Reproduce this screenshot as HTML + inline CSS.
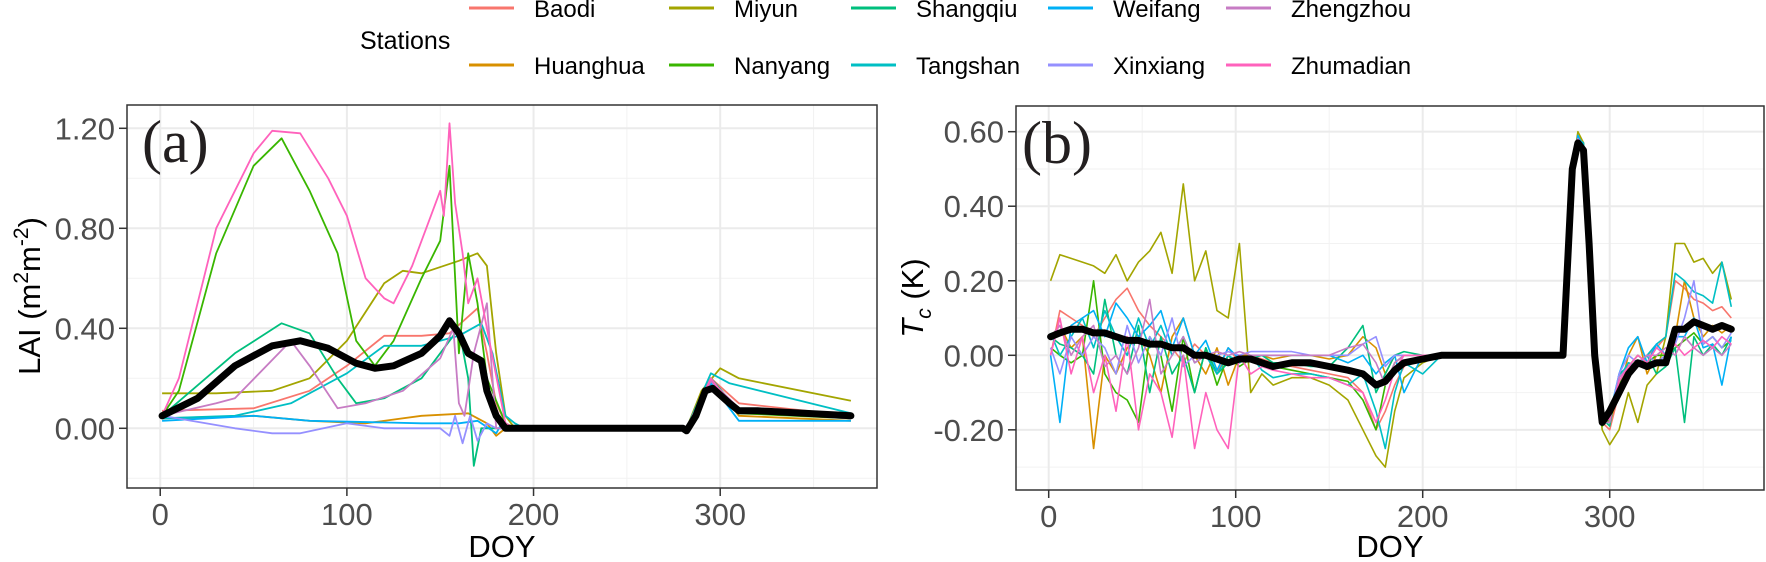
<!DOCTYPE html>
<html><head><meta charset="utf-8"><style>
html,body{margin:0;padding:0;background:#fff;}
svg{display:block;font-family:"Liberation Sans",Arial,sans-serif;}
</style></head><body>
<svg id="chart" width="1766" height="562" viewBox="0 0 1766 562">
<g id="legend"></g>
<g id="panelA"></g>
<g id="panelB"></g>
</svg>
<script>
const stations = ["Baodi","Huanghua","Miyun","Nanyang","Shangqiu","Tangshan","Weifang","Xinxiang","Zhengzhou","Zhumadian"];
const colors = ["#F8766D","#D89000","#A3A500","#39B600","#00BF7D","#00BFC4","#00B0F6","#9590FF","#C77CC4","#FF62BC"];
const xTicks = [0,100,200,300];
const yTicksA = [0,0.4,0.8,1.2];
const yTicksB = [-0.2,0,0.2,0.4,0.6];

// Panel (a) LAI: [DOY, value]
const lai_Baodi = [[1,0.07],[50,0.08],[80,0.15],[100,0.25],[120,0.37],[140,0.37],[155,0.38],[170,0.48],[175,0.3],[180,0.1],[185,0.02],[190,0],[282,0],[295,0.2],[310,0.1],[370,0.05]];
const lai_Huanghua = [[1,0.04],[50,0.05],[80,0.03],[110,0.02],[140,0.05],[165,0.06],[175,0.02],[180,-0.03],[185,0],[282,0],[295,0.2],[310,0.05],[370,0.03]];
const lai_Miyun = [[1,0.14],[30,0.14],[60,0.15],[80,0.2],[100,0.35],[120,0.58],[130,0.63],[140,0.62],[160,0.67],[170,0.7],[175,0.65],[180,0.3],[185,0.05],[190,0],[282,0],[290,0.15],[300,0.24],[310,0.2],[370,0.11]];
const lai_Nanyang = [[1,0.05],[10,0.15],[30,0.7],[50,1.05],[65,1.16],[80,0.95],[95,0.7],[105,0.35],[115,0.25],[125,0.35],[140,0.6],[150,0.75],[155,1.05],[160,0.3],[165,0.7],[170,0.5],[175,0.2],[185,0.02],[190,0],[282,0],[295,0.2],[310,0.06],[370,0.04]];
const lai_Shangqiu = [[1,0.05],[40,0.3],[65,0.42],[80,0.38],[95,0.2],[105,0.1],[120,0.12],[140,0.2],[160,0.4],[165,0.2],[168,-0.15],[172,0],[185,0],[282,0],[295,0.2],[310,0.07],[370,0.04]];
const lai_Tangshan = [[1,0.04],[40,0.05],[70,0.1],[100,0.22],[120,0.33],[140,0.33],[160,0.37],[172,0.42],[178,0.3],[185,0.05],[190,0.02],[195,0],[282,0],[295,0.22],[305,0.18],[370,0.06]];
const lai_Weifang = [[1,0.03],[50,0.05],[80,0.03],[140,0.02],[160,0.02],[170,0.03],[180,-0.02],[183,0.02],[190,0],[282,0],[295,0.18],[310,0.03],[370,0.03]];
const lai_Xinxiang = [[1,0.05],[40,0],[60,-0.02],[75,-0.02],[100,0.02],[120,0],[150,0],[155,-0.03],[158,0.05],[162,-0.06],[166,0.05],[170,-0.05],[175,0.02],[180,0],[282,0],[295,0.19],[310,0.07],[370,0.04]];
const lai_Zhengzhou = [[1,0.05],[30,0.1],[40,0.12],[70,0.35],[80,0.25],[95,0.08],[110,0.1],[130,0.15],[150,0.28],[157,0.4],[160,0.1],[163,0.05],[168,0.3],[175,0.5],[180,0],[282,0],[295,0.19],[310,0.08],[370,0.05]];
const lai_Zhumadian = [[1,0.05],[10,0.2],[30,0.8],[50,1.1],[60,1.19],[75,1.18],[90,1.0],[100,0.85],[110,0.6],[120,0.52],[125,0.5],[135,0.65],[145,0.85],[150,0.95],[152,0.85],[155,1.22],[158,0.9],[162,0.7],[165,0.5],[170,0.6],[175,0.4],[185,0.02],[190,0],[282,0],[295,0.2],[300,0.15],[310,0.07],[370,0.04]];
const lai_Mean = [[1,0.05],[20,0.12],[40,0.25],[60,0.33],[75,0.35],[90,0.32],[105,0.26],[115,0.24],[125,0.25],[140,0.3],[150,0.37],[155,0.43],[160,0.38],[165,0.3],[172,0.27],[175,0.15],[180,0.05],[185,0],[280,0],[282,-0.01],[287,0.05],[292,0.15],[296,0.16],[305,0.1],[310,0.07],[320,0.07],[370,0.05]];

// Panel (b) Tc (K)
const daysB = [1,6,12,18,24,30,36,42,48,54,60,66,72,78,84,90,96,102,108,114,120,130,140,150,160,168,175,180,185,190,200,210,275,280,283,286,289,292,296,300,305,310,315,320,325,330,335,340,345,350,355,360,365];
const tc_Baodi = [0.0,0.12,0.10,0.08,0.05,0.10,0.15,0.18,0.12,0.08,0.05,0.02,-0.02,0.03,0.0,-0.05,0.02,-0.02,0.0,-0.01,-0.02,-0.03,-0.04,-0.05,-0.06,-0.1,-0.2,-0.15,-0.08,-0.03,0.0,0.0,0,0.5,0.59,0.57,0.32,0.0,-0.18,-0.2,-0.1,-0.02,-0.03,0.0,0.02,0.05,0.2,0.18,0.15,0.14,0.12,0.13,0.10];
const tc_Huanghua = [0.05,0.08,0.02,0.05,-0.25,0.0,-0.05,0.02,0.05,0.0,-0.1,0.05,0.1,0.0,-0.05,0.02,-0.08,0.0,0.0,0.0,-0.01,0,0,-0.01,0.0,0.05,0.02,-0.05,0.0,0.0,0,0,0,0.5,0.58,0.56,0.3,0.0,-0.17,-0.18,-0.1,0.0,0.05,-0.05,0.0,0.0,0.05,0.2,0.1,0.05,0.08,0.06,0.08];
const tc_Miyun = [0.20,0.27,0.26,0.25,0.24,0.22,0.27,0.20,0.25,0.28,0.33,0.22,0.46,0.20,0.28,0.12,0.10,0.30,-0.10,-0.05,-0.08,-0.06,-0.06,-0.08,-0.12,-0.20,-0.27,-0.30,-0.15,-0.06,-0.02,0.0,0,0.5,0.6,0.57,0.3,0.0,-0.2,-0.24,-0.2,-0.1,-0.18,-0.08,-0.05,0.05,0.30,0.30,0.25,0.26,0.22,0.25,0.15];
const tc_Nanyang = [0.02,0.0,-0.02,0.0,0.2,-0.05,-0.1,-0.12,-0.18,0.05,0.0,-0.15,0.05,-0.1,0.02,-0.08,0.0,-0.03,-0.01,-0.02,-0.03,-0.04,-0.05,-0.06,-0.07,-0.12,-0.2,-0.08,-0.02,0.0,0,0,0,0.5,0.58,0.55,0.3,0.0,-0.19,-0.17,-0.08,-0.03,0.0,-0.02,0.0,0.0,0.02,0.04,0.06,0.03,0.05,0.02,0.04];
const tc_Shangqiu = [0.05,0.03,0.02,0.0,-0.05,0.15,0.0,-0.05,0.08,-0.1,0.05,-0.05,0.0,-0.1,0.02,-0.05,-0.02,0.0,-0.01,0.0,-0.02,-0.02,-0.03,-0.03,0.02,0.08,-0.1,-0.05,0.0,0.01,0,0,0,0.5,0.58,0.56,0.3,0.0,-0.17,-0.19,-0.05,-0.03,-0.02,0.0,-0.05,-0.03,0.02,-0.18,0.05,0.0,0.03,0.0,0.05];
const tc_Tangshan = [0.06,0.0,0.05,0.1,0.02,0.12,0.05,0.0,0.1,0.02,0.08,0.0,0.05,-0.02,0.0,-0.05,0.0,-0.02,0.0,-0.04,-0.06,-0.05,-0.05,-0.06,-0.08,-0.05,-0.15,-0.25,-0.1,-0.02,-0.05,0.0,0,0.5,0.58,0.57,0.32,0.0,-0.18,-0.18,-0.06,-0.02,-0.03,0.0,0.03,0.05,0.22,0.2,0.17,0.16,0.14,0.25,0.13];
const tc_Weifang = [0.0,-0.18,0.08,0.1,0.12,0.05,0.14,0.1,0.05,0.08,0.12,0.02,0.1,0.0,0.04,-0.04,0.02,-0.01,0.0,0.0,0.0,0.0,0.0,0.0,-0.02,0.0,-0.05,-0.02,0.0,-0.1,0.0,0,0,0.5,0.59,0.56,0.3,0.0,-0.18,-0.16,-0.05,0.02,0.05,-0.02,0.03,0.0,0.05,0.05,0.1,0.02,0.03,-0.08,0.05];
const tc_Xinxiang = [0.02,-0.05,0.05,0.0,0.05,0.02,-0.05,0.08,-0.02,0.05,0.0,0.1,-0.03,0.0,0.0,0.0,0.01,0.0,0.01,0.01,0.01,0.01,0.0,0.0,0.0,0.03,0.05,-0.03,0.0,0.0,0,0,0,0.5,0.58,0.56,0.3,0.0,-0.17,-0.17,-0.05,0.0,-0.02,0.0,-0.02,0.0,0.03,0.1,0.2,0.03,0.05,0.02,0.06];
const tc_Zhengzhou = [0.05,0.08,0.0,0.05,0.08,-0.03,0.0,-0.05,0.02,0.15,-0.05,0.0,0.05,-0.02,0.0,0.01,0.0,0.01,0.0,0.0,0.0,0.0,0.0,0.0,0.02,0.03,-0.02,-0.08,-0.02,0.0,0,0,0,0.5,0.57,0.55,0.3,0.0,-0.18,-0.18,-0.06,-0.03,-0.02,0.0,0.0,0.02,0.0,0.05,0.02,0.0,0.02,0.0,0.03];
const tc_Zhumadian = [0.0,0.1,-0.05,0.05,-0.1,0.0,-0.15,0.05,-0.2,-0.05,-0.1,-0.22,0.0,-0.25,-0.1,-0.2,-0.25,0.0,-0.05,-0.03,-0.04,-0.05,-0.06,-0.06,-0.08,-0.1,-0.18,-0.12,-0.04,0.0,0,0,0,0.5,0.58,0.56,0.3,0.0,-0.18,-0.17,-0.07,-0.03,0.0,-0.02,0.02,0.0,0.03,0.0,0.02,0.04,0.02,0.05,0.03];
const tc_Mean = [0.05,0.06,0.07,0.07,0.06,0.06,0.05,0.04,0.04,0.03,0.03,0.02,0.02,0.0,0.0,-0.01,-0.02,-0.01,-0.01,-0.02,-0.03,-0.02,-0.02,-0.03,-0.04,-0.05,-0.08,-0.07,-0.04,-0.02,-0.01,0.0,0,0.5,0.57,0.55,0.3,0.0,-0.18,-0.15,-0.1,-0.05,-0.02,-0.03,-0.02,-0.02,0.07,0.07,0.09,0.08,0.07,0.08,0.07];

const laiSeries = [lai_Baodi,lai_Huanghua,lai_Miyun,lai_Nanyang,lai_Shangqiu,lai_Tangshan,lai_Weifang,lai_Xinxiang,lai_Zhengzhou,lai_Zhumadian];
const tcSeries = [tc_Baodi,tc_Huanghua,tc_Miyun,tc_Nanyang,tc_Shangqiu,tc_Tangshan,tc_Weifang,tc_Xinxiang,tc_Zhengzhou,tc_Zhumadian];

const NS="http://www.w3.org/2000/svg";
function mk(tag, attrs, parent){const e=document.createElementNS(NS,tag);for(const k in attrs)e.setAttribute(k,attrs[k]);parent.appendChild(e);return e;}

function panel(g, box, xDom, yDom, yMajor, yMinorStep){
  const sx=v=>box.x0+(v-xDom[0])/(xDom[1]-xDom[0])*(box.x1-box.x0);
  const sy=v=>box.y1-(v-yDom[0])/(yDom[1]-yDom[0])*(box.y1-box.y0);
  const grid=mk('g',{},g);
  
  
  const clip=(v,a,b)=>v>=a&&v<=b;
  for(let v=-50;v<=400;v+=50){ if(v%100!==0 && clip(sx(v),box.x0,box.x1)) mk('line',{x1:sx(v),x2:sx(v),y1:box.y0,y2:box.y1,stroke:'#f2f2f2','stroke-width':1},grid);}
  for(let k=-10;k<=20;k++){const v=k*yMinorStep; if(clip(sy(v),box.y0,box.y1)) mk('line',{x1:box.x0,x2:box.x1,y1:sy(v),y2:sy(v),stroke:'#f2f2f2','stroke-width':1},grid);}
  xTicks.forEach(v=>mk('line',{x1:sx(v),x2:sx(v),y1:box.y0,y2:box.y1,stroke:'#ebebeb','stroke-width':2},grid));
  yMajor.forEach(v=>mk('line',{x1:box.x0,x2:box.x1,y1:sy(v),y2:sy(v),stroke:'#ebebeb','stroke-width':2},grid));
  return {sx,sy};
}
function axes(g, box, sc, yMajor, yFmt){
  mk('rect',{x:box.x0,y:box.y0,width:box.x1-box.x0,height:box.y1-box.y0,fill:'none',stroke:'#333','stroke-width':1.5},g);
  xTicks.forEach(v=>{
    mk('line',{x1:sc.sx(v),x2:sc.sx(v),y1:box.y1,y2:box.y1+8,stroke:'#333','stroke-width':1.5},g);
    const t=mk('text',{x:sc.sx(v),y:box.y1+37,'text-anchor':'middle','font-size':31,fill:'#4d4d4d'},g);
    t.textContent=String(v);
    
    
  });
  yMajor.forEach(v=>{
    mk('line',{x1:box.x0-8,x2:box.x0,y1:sc.sy(v),y2:sc.sy(v),stroke:'#333','stroke-width':1.5},g);
    const t=mk('text',{x:box.x0-12,y:sc.sy(v)+11,'text-anchor':'end','font-size':31,fill:'#4d4d4d'},g);
    t.textContent=yFmt(v);
    
    
  });
  const xt=mk('text',{x:(box.x0+box.x1)/2,y:557,'text-anchor':'middle','font-size':31,fill:'#000'},g);
  xt.textContent='DOY';
  
  
}
function pathD(pts,sc){return pts.map((p,i)=>(i?'L':'M')+sc.sx(p[0]).toFixed(1)+','+sc.sy(p[1]).toFixed(1)).join('');}

(function(){
  const gA=document.getElementById('panelA');
  const boxA={x0:127,x1:877,y0:105,y1:488};
  const yA0=-(488-428.3)/250, yA1=(428.3-105)/250;
  const sc=panel(gA,boxA,[-17.8,384],[yA0,yA1],yTicksA,0.2);
  laiSeries.forEach((s,i)=>{
    const p=mk('path',{d:pathD(s,sc),fill:'none',stroke:colors[i],'stroke-width':1.8,'stroke-linejoin':'round'},gA);
    
    
  });
  const m=mk('path',{d:pathD(lai_Mean,sc),fill:'none',stroke:'#000','stroke-width':7,'stroke-linejoin':'round','stroke-linecap':'round'},gA);
  
  
  axes(gA,boxA,sc,yTicksA,v=>v.toFixed(2));
  const lab=mk('text',{x:142,y:162,'font-size':60,'font-family':'"Liberation Serif",serif',fill:'#231f20'},gA);
  lab.textContent='(a)';
  
  
  const yt=mk('text',{transform:'translate(40,296) rotate(-90)','text-anchor':'middle','font-size':31,fill:'#000'},gA);
  yt.innerHTML='LAI (m<tspan dy="-12" font-size="21">2</tspan><tspan dy="12">m</tspan><tspan dy="-12" font-size="21">-2</tspan><tspan dy="12">)</tspan>';
  
  

  const gB=document.getElementById('panelB');
  const boxB={x0:1016,x1:1764,y0:106,y1:490};
  const k=372.7;
  const yB0=-(490-355.3)/k, yB1=(355.3-106)/k;
  const x0d=-(1048.7-1016)/1.87, x1d=(1764-1048.7)/1.87;
  const scB=panel(gB,boxB,[x0d,x1d],[yB0,yB1],yTicksB,0.1);
  tcSeries.forEach((s,i)=>{
    const pts=daysB.map((d,j)=>[d,s[j]]);
    const p=mk('path',{d:pathD(pts,scB),fill:'none',stroke:colors[i],'stroke-width':1.6,'stroke-linejoin':'round'},gB);
    
    
  });
  const mb=mk('path',{d:pathD(daysB.map((d,j)=>[d,tc_Mean[j]]),scB),fill:'none',stroke:'#000','stroke-width':7,'stroke-linejoin':'round','stroke-linecap':'round'},gB);
  
  
  axes(gB,boxB,scB,yTicksB,v=>v.toFixed(2));
  const labB=mk('text',{x:1022,y:163,'font-size':60,'font-family':'"Liberation Serif",serif',fill:'#231f20'},gB);
  labB.textContent='(b)';
  
  
  const ytB=mk('text',{transform:'translate(923,298) rotate(-90)','text-anchor':'middle','font-size':31,fill:'#000'},gB);
  ytB.innerHTML='<tspan font-style="italic">T</tspan><tspan font-style="italic" font-size="21" dy="8">c</tspan><tspan dy="-8"> (K)</tspan>';
  
  

  const lg=document.getElementById('legend');
  const lt=mk('text',{x:360,y:49,'font-size':25,fill:'#000'},lg);
  lt.textContent='Stations';
  
  
  const colX=[469,669,851,1048,1226];
  stations.forEach((s,i)=>{
    const c=Math.floor(i/2), r=i%2;
    const y=r?65:8;
    const e=mk('g',{},lg);
    
    
    mk('line',{x1:colX[c],x2:colX[c]+45,y1:y,y2:y,stroke:colors[i],'stroke-width':3},e);
    const t=mk('text',{x:colX[c]+65,y:y+9,'font-size':24,fill:'#000'},e);
    t.textContent=s;
  });
})();
</script>
</body></html>
